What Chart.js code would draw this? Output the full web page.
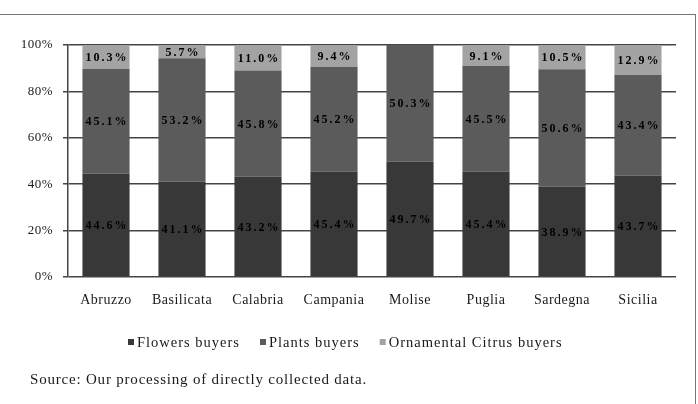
<!DOCTYPE html>
<html><head><meta charset="utf-8">
<script src="https://cdn.jsdelivr.net/npm/chart.js@4.4.1/dist/chart.umd.min.js"></script>
<style>
html,body{margin:0;padding:0;background:#fff;}
#wrap{position:relative;width:698px;height:404px;overflow:hidden;background:#fff;}
canvas{position:absolute;left:0;top:0;}
#frame{position:absolute;left:-2px;top:14px;width:697px;height:400px;border-top:1px solid #777;border-right:1px solid #777;pointer-events:none;}
</style></head><body>
<div id="wrap"><canvas id="c" width="698" height="404"></canvas><div id="frame"></div></div>
<script>
const categories = ['Abruzzo','Basilicata','Calabria','Campania','Molise','Puglia','Sardegna','Sicilia'];
const seriesNames = ['Flowers buyers','Plants buyers','Ornamental Citrus buyers'];
const flowers = [44.6, 41.1, 43.2, 45.4, 49.7, 45.4, 38.9, 43.7];
const plants  = [45.1, 53.2, 45.8, 45.2, 50.3, 45.5, 50.6, 43.4];
const citrus  = [10.3, 5.7, 11.0, 9.4, 0, 9.1, 10.5, 12.9];
const colors = ['#383838', '#5b5b5b', '#a3a3a3'];
const sourceText = 'Source: Our processing of directly collected data.';

const serif = '"Liberation Serif", "Times New Roman", serif';

const extrasPlugin = {
  id: 'extras',
  beforeDraw(chart) { chart.ctx.letterSpacing = '0.5px'; },
  afterDatasetsDraw(chart) { chart.ctx.letterSpacing = '2.5px'; },
  afterDraw(chart) {
    const ctx = chart.ctx;
    ctx.save();
    // value labels
    ctx.letterSpacing = '2px';
    ctx.font = 'bold 12px ' + serif;
    ctx.textAlign = 'center';
    ctx.textBaseline = 'middle';
    ctx.fillStyle = '#000';
    chart.data.datasets.forEach((ds, di) => {
      const meta = chart.getDatasetMeta(di);
      meta.data.forEach((bar, i) => {
        const v = ds.data[i];
        if (!v) return;
        const p = bar.getProps(['x', 'y', 'base'], true);
        ctx.fillText(v.toFixed(1) + '%', p.x + 1, (p.y + p.base) / 2 + 1);
      });
    });
    // legend
    ctx.letterSpacing = '1px';
    ctx.font = '14.5px ' + serif;
    ctx.textAlign = 'left';
    let x = 128;
    const ly = 342;
    chart.data.datasets.forEach((ds, di) => {
      ctx.fillStyle = ds.backgroundColor;
      ctx.fillRect(x, ly - 3, 6, 6);
      ctx.fillStyle = '#1a1a1a';
      ctx.fillText(ds.label, x + 9, ly + 1);
      x += 9 + ctx.measureText(ds.label).width + 20;
    });
    // source
    ctx.letterSpacing = '0.8px';
    ctx.font = '15px ' + serif;
    ctx.fillText(sourceText, 30, 380);
    ctx.restore();
  }
};

const datasets = [flowers, plants, citrus].map((d, i) => ({
  label: seriesNames[i],
  data: d,
  backgroundColor: colors[i],
  borderWidth: 0,
  categoryPercentage: 1,
  barPercentage: 0.62
}));

new Chart(document.getElementById('c'), {
  type: 'bar',
  data: { labels: categories, datasets },
  options: {
    responsive: false,
    animation: false,
    layout: { padding: { top: 45, right: 22, bottom: 77, left: 0 } },
    plugins: { legend: { display: false }, tooltip: { enabled: false } },
    scales: {
      x: {
        stacked: true,
        grid: { display: false, drawTicks: false },
        border: { display: false },
        ticks: { color: '#1a1a1a', padding: 15, font: { family: serif, size: 14 } },
        afterFit(s) { s.height = 50; }
      },
      y: {
        stacked: true,
        min: 0, max: 100,
        z: 1,
        grid: { color: '#444', lineWidth: 1.5, drawTicks: true, tickLength: 5, tickColor: '#444' },
        border: { display: true, color: '#444', width: 1.5 },
        ticks: { stepSize: 20, color: '#1a1a1a', padding: 10, font: { family: serif, size: 13 }, callback: v => v + '%' },
        afterFit(s) { s.width = 68; }
      }
    }
  },
  plugins: [extrasPlugin]
});
</script>
</body></html>
